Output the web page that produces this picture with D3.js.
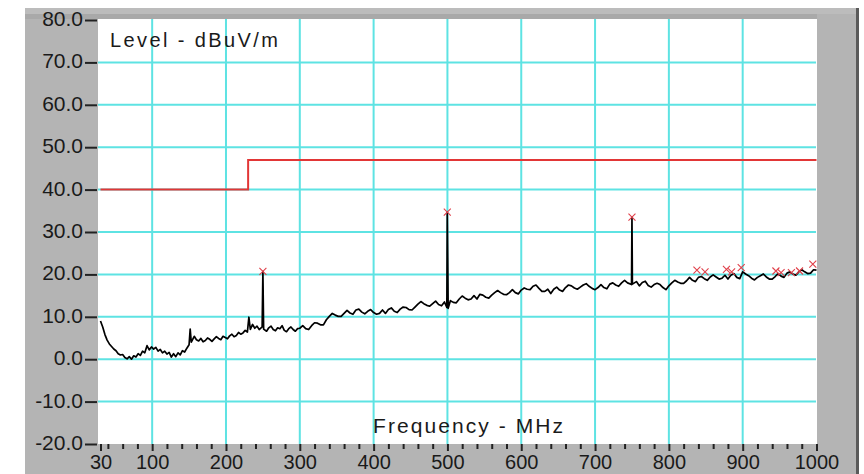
<!DOCTYPE html>
<html>
<head>
<meta charset="utf-8">
<script src="https://cdn.jsdelivr.net/npm/d3@7"></script>
<style>
  html, body { margin: 0; padding: 0; background: #fff; }
  svg { display: block; }
  text { font-family: "Liberation Sans", Arial, sans-serif; fill: #1a1a1a; }
</style>
</head>
<body>
<svg id="chart" width="864" height="474"></svg>
<script>
// ---------- data ----------
const yTickValues = [-20, -10, 0, 10, 20, 30, 40, 50, 60, 70, 80];
const xMajorTicks = [30, 100, 200, 300, 400, 500, 600, 700, 800, 900, 1000];
const xMinorTicks = [40, 60, 80, 120, 140, 160, 180, 220, 240, 260, 280, 320, 340, 360, 380,
  420, 440, 460, 480, 520, 540, 560, 580, 620, 640, 660, 680, 720, 740, 760, 780,
  820, 840, 860, 880, 920, 940, 960, 980];
const xGridValues = [100, 200, 300, 400, 500, 600, 700, 800, 900];
const yGridValues = [-10, 0, 10, 20, 30, 40, 50, 60, 70];

// limit line (frequency MHz, level dBuV/m)
const limitLine = [[30, 40], [230, 40], [230, 47], [1000, 47]];

// measured trace (frequency MHz, level dBuV/m)
const trace = [
  [30,9.0],[33,7.6],[36,5.8],[39,4.5],[42,3.6],[45,3.0],[48,2.4],[51,2.0],[54,1.3],[57,1.0],
  [60,1.1],[63,0.4],[66,0.1],[69,0.6],[72,0.0],[75,0.8],[78,0.5],[81,1.3],[84,0.9],[87,1.9],
  [90,1.5],[93,3.2],[96,2.2],[99,2.9],[102,2.4],[105,2.8],[108,1.9],[111,2.3],[114,1.5],[117,1.9],
  [120,1.2],[123,1.6],[126,0.5],[129,1.3],[132,0.6],[135,1.5],[138,1.0],[141,2.0],[144,1.7],[147,2.6],
  [150,3.4],[151.5,7.1],[153,4.0],[157,5.4],[160,4.6],[163,4.3],[166,4.9],[169,4.1],[172,4.4],[175,5.0],
  [178,4.7],[181,4.2],[184,4.8],[187,5.3],[190,4.9],[193,4.6],[196,5.4],[199,5.1],[202,4.8],[205,5.5],
  [208,5.9],[211,5.3],[214,5.6],[217,6.3],[220,5.9],[223,6.2],[226,6.8],[229,6.4],[231,9.9],[233,7.0],
  [236,8.2],[239,7.3],[242,7.8],[245,7.0],[249,7.6],[250,20.7],[251,7.1],[255,6.6],[258,7.4],[261,7.8],
  [264,7.0],[267,6.7],[270,7.4],[273,7.2],[276,7.9],[279,6.8],[282,6.5],[285,7.2],[288,7.6],[291,7.0],
  [294,6.6],[297,7.2],[300,7.3],[304,7.9],[308,7.2],[312,7.0],[316,7.9],[320,8.6],[324,8.5],[328,8.1],
  [332,8.1],[336,9.3],[340,10.1],[344,10.8],[348,10.4],[352,10.1],[356,10.1],[360,10.8],[364,11.5],[368,10.9],
  [372,10.6],[376,11.6],[380,11.8],[384,11.1],[388,10.7],[392,11.3],[396,11.7],[400,11.0],[404,10.6],[408,10.8],
  [412,11.6],[416,10.8],[420,11.7],[424,12.1],[428,11.3],[432,11.0],[436,11.8],[440,12.3],[444,12.2],[448,11.7],
  [452,11.6],[456,12.3],[460,13.0],[464,13.6],[468,13.1],[472,12.7],[476,12.5],[480,13.1],[484,13.7],[488,12.9],
  [492,12.6],[496,13.5],[499.2,12.2],[499.8,34.7],[500.4,24.1],[501,12.0],[504,13.8],[508,13.4],[512,13.3],[516,14.2],
  [520,14.9],[524,14.4],[528,14.0],[532,14.2],[536,15.0],[540,14.2],[544,15.3],[548,15.1],[552,14.6],[556,14.4],
  [560,15.1],[564,15.7],[568,16.2],[572,15.7],[576,15.3],[580,15.2],[584,15.7],[588,16.4],[592,15.7],[596,15.4],
  [600,16.3],[604,16.8],[608,16.5],[612,16.4],[616,17.2],[620,17.5],[624,16.7],[628,16.0],[632,16.0],[636,16.5],
  [640,15.5],[644,16.5],[648,17.0],[652,16.3],[656,16.0],[660,16.9],[664,17.5],[668,17.3],[672,16.8],[676,16.5],
  [680,17.0],[684,17.5],[688,17.8],[692,17.2],[696,16.7],[700,16.4],[704,16.9],[708,17.6],[712,16.9],[716,16.6],
  [720,17.7],[724,18.0],[728,17.5],[732,17.2],[736,18.0],[740,18.6],[744,18.0],[749.4,17.6],[750,33.5],[750.6,17.7],
  [756,18.3],[760,17.3],[764,18.1],[768,18.4],[772,17.4],[776,17.0],[780,17.6],[784,17.9],[788,17.6],[792,16.9],
  [796,16.4],[800,17.3],[804,18.0],[808,18.6],[812,18.2],[816,17.9],[820,17.9],[824,18.5],[828,19.3],[832,18.6],
  [836,18.3],[840,19.3],[844,19.5],[848,19.0],[852,18.6],[856,19.4],[860,19.9],[864,19.4],[868,18.9],[872,19.1],
  [876,19.8],[880,18.9],[884,19.8],[888,20.2],[892,19.3],[896,19.0],[900,20.6],[904,20.1],[908,19.7],[912,19.1],
  [916,18.7],[920,19.3],[924,19.7],[928,20.1],[932,19.4],[936,18.9],[940,18.9],[944,19.5],[948,20.2],[952,19.6],
  [956,19.3],[960,20.3],[964,20.6],[968,20.1],[972,19.8],[976,20.6],[980,21.1],[984,20.6],[988,20.2],[992,20.3],
  [996,21.1],[1000,21.0]
];

// peak markers (frequency MHz, level dBuV/m)
const markers = [
  [250,20.7],[499.8,34.7],[750,33.5],[838,21.0],[849,20.6],[878,21.2],[885,20.6],[898,21.6],
  [945,20.8],[952,20.4],[966,20.4],[977,20.8],[995,22.4]
];

const yTitle = "Level - dBuV/m";
const xTitle = "Frequency - MHz";

// ---------- layout ----------
const svg = d3.select("#chart");
const x = d3.scaleLinear().domain([30, 1000]).range([100.5, 816.5]);
const y = d3.scaleLinear().domain([-20, 80]).range([444, 20]);

// grey frame
svg.append("rect").attr("x", 25).attr("y", 8).attr("width", 832).attr("height", 466).attr("fill", "#b4b4b4");
svg.append("rect").attr("x", 25).attr("y", 8).attr("width", 832).attr("height", 6).attr("fill", "#bcbcbc");
svg.append("rect").attr("x", 25).attr("y", 14).attr("width", 792).attr("height", 5).attr("fill", "#a9a9a9");
svg.append("rect").attr("x", 856).attr("y", 8).attr("width", 3).attr("height", 466).attr("fill", "#5a5a5a");

// plot area
const px0 = x(30) - 2.5, px1 = x(1000) + 0.5;
svg.append("rect").attr("x", px0).attr("y", y(80) - 1).attr("width", px1 - px0)
  .attr("height", y(-20) - y(80) + 1).attr("fill", "#ffffff");

// grid
const grid = svg.append("g").attr("stroke", "#5ee3e3").attr("stroke-width", 2);
grid.selectAll("line.v").data(xGridValues).join("line").attr("class", "v")
  .attr("x1", d => x(d)).attr("x2", d => x(d)).attr("y1", y(80) - 1).attr("y2", y(-20));
grid.selectAll("line.h").data(yGridValues).join("line").attr("class", "h")
  .attr("x1", px0).attr("x2", x(1000) - 0.5).attr("y1", d => y(d)).attr("y2", d => y(d));

// limit line
svg.append("path").datum(limitLine)
  .attr("d", d3.line().x(d => x(d[0])).y(d => y(d[1])))
  .attr("fill", "none").attr("stroke", "#e23636").attr("stroke-width", 2);

// trace
svg.append("path").datum(trace)
  .attr("d", d3.line().x(d => x(d[0])).y(d => y(d[1])))
  .attr("fill", "none").attr("stroke", "#000").attr("stroke-width", 1.7).attr("stroke-linejoin", "round");

// markers (x)
const ms = 3.5;
const mk = svg.append("g").attr("stroke", "#e0404a").attr("stroke-width", 1.1);
markers.forEach(d => {
  const cx = x(d[0]), cy = y(d[1]);
  mk.append("path").attr("d", `M${cx - ms},${cy - ms}L${cx + ms},${cy + ms}M${cx - ms},${cy + ms}L${cx + ms},${cy - ms}`);
});

// y axis
const yAxis = svg.append("g").attr("transform", `translate(${px0 - 1},0)`)
  .call(d3.axisLeft(y).tickValues(yTickValues).tickSize(12).tickPadding(2).tickFormat(d => d.toFixed(1)));
yAxis.select(".domain").remove();
yAxis.selectAll(".tick line").attr("stroke", "#222").attr("stroke-width", 2);
yAxis.selectAll(".tick text").attr("font-size", 21).attr("dy", "0.26em")
  .attr("font-family", "'Liberation Sans', Arial, sans-serif").attr("fill", "#1a1a1a");

// x axis minor ticks
const xMinor = svg.append("g").attr("transform", `translate(0,${y(-20)})`)
  .call(d3.axisBottom(x).tickValues(xMinorTicks).tickSize(5).tickFormat(""));
xMinor.select(".domain").remove();
xMinor.selectAll(".tick line").attr("stroke", "#222").attr("stroke-width", 2);

// x axis major ticks + labels
const xMajor = svg.append("g").attr("transform", `translate(0,${y(-20)})`)
  .call(d3.axisBottom(x).tickValues(xMajorTicks).tickSize(7).tickPadding(4).tickFormat(d3.format("d")));
xMajor.select(".domain").remove();
xMajor.selectAll(".tick line").attr("stroke", "#222").attr("stroke-width", 2);
xMajor.selectAll(".tick text").attr("font-size", 20).attr("dy", "0.7em")
  .attr("font-family", "'Liberation Sans', Arial, sans-serif").attr("fill", "#1a1a1a");

// titles inside plot
svg.append("text").attr("x", 110).attr("y", 47).attr("font-size", 20)
  .attr("textLength", 168).attr("lengthAdjust", "spacing").text(yTitle);
svg.append("text").attr("x", 373).attr("y", 433).attr("font-size", 21)
  .attr("textLength", 190).attr("lengthAdjust", "spacing").text(xTitle);
</script>
</body>
</html>
